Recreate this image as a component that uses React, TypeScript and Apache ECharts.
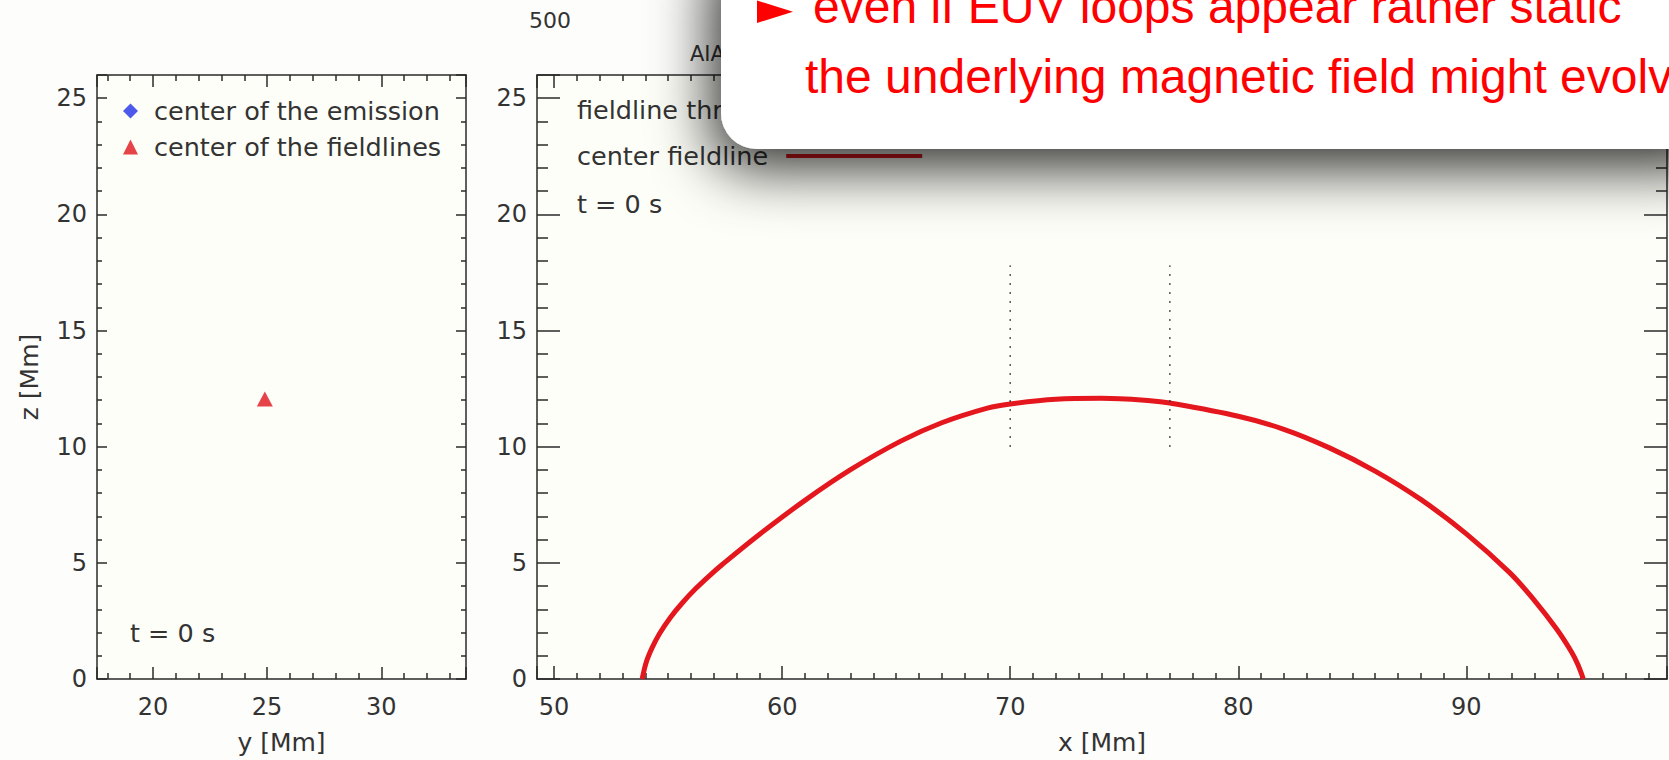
import React, { useEffect, useRef } from "react";
import * as echarts from "echarts";

// ---- data ----
const emissionCenter: number[][] = [];
const fieldlineCenter: number[][] = [[24.9, 12.05]];

const centerFieldlineX = [
  53.86, 54.05, 54.3, 54.62, 55.1, 55.6, 56.2, 56.77, 57.4, 59.0, 61.0, 63.0, 65.2, 67.0, 69.0, 70.0,
  72.0, 74.0, 76.14, 77.0, 80.0, 82.0, 84.0, 86.0, 88.0, 90.0, 91.9, 92.94, 93.96, 94.62, 94.9, 95.13,
];
const centerFieldlineZ = [
  0, 0.75, 1.35, 1.95, 2.65, 3.25, 3.88, 4.41, 4.95, 6.22, 7.69, 9.01, 10.24, 11.03, 11.66, 11.84,
  12.04, 12.08, 11.98, 11.88, 11.31, 10.75, 9.95, 8.95, 7.73, 6.25, 4.58, 3.44, 2.15, 1.15, 0.6, 0,
];
const markerA: number[][] = [[70, 10], [70, 17.8]];
const markerB: number[][] = [[77, 10], [77, 17.8]];

const leftXRange = [17.55, 33.71];
const rightXRange = [49.25, 98.8];
const zRange = [0, 26];

const legendLeft = ["center of the emission", "center of the fieldlines"];
const legendRight = ["center fieldline"];
const overlayLines = ["even if EUV loops appear rather static", "the underlying magnetic field might evolve"];

const FONT = "'DejaVu Sans', 'Noto Sans', sans-serif";
const INK = "#2a2a2a";
const TXT = "#333333";
const TS = 25.5;

function axis(o: any) {
  return {
    type: "value",
    gridIndex: o.grid,
    position: o.position,
    min: o.min,
    max: o.max,
    ...(o.interval != null ? { interval: o.interval } : { minInterval: o.step, maxInterval: o.step }),
    name: o.name || "",
    nameLocation: "middle",
    nameGap: o.nameGap || 0,
    nameTextStyle: { fontFamily: FONT, fontSize: 25, color: TXT },
    axisLine: { show: true, onZero: false, lineStyle: { color: INK, width: 1.5 } },
    splitLine: { show: false },
    axisTick: { show: true, inside: true, length: o.major, lineStyle: { color: INK, width: 1.5 } },
    minorTick: { show: true, splitNumber: o.split, length: o.minor, lineStyle: { color: INK, width: 1.5 } },
    axisLabel: {
      show: !!o.labels,
      color: TXT,
      fontFamily: FONT,
      fontSize: 24,
      margin: o.margin || 8,
      showMinLabel: o.showMin,
      showMaxLabel: false,
    },
  };
}

const option: any = {
  animation: false,
  backgroundColor: "#fdfdfb",
  grid: [
    { left: 97, top: 75, width: 369, height: 605, show: true, backgroundColor: "#fefef8", borderWidth: 0 },
    { left: 537, top: 75, width: 1130, height: 605, show: true, backgroundColor: "#fefef8", borderWidth: 0 },
  ],
  xAxis: [
    axis({ grid: 0, position: "bottom", min: leftXRange[0], max: leftXRange[1], step: 5, split: 5, major: 12, minor: 6, labels: true, margin: 16, showMin: false, name: "y [Mm]", nameGap: 51 }),
    axis({ grid: 0, position: "top", min: leftXRange[0], max: leftXRange[1], step: 5, split: 5, major: 12, minor: 6 }),
    axis({ grid: 1, position: "bottom", min: rightXRange[0], max: rightXRange[1], step: 10, split: 10, major: 13, minor: 6, labels: true, margin: 16, showMin: false, name: "x [Mm]", nameGap: 51 }),
    axis({ grid: 1, position: "top", min: rightXRange[0], max: rightXRange[1], step: 10, split: 10, major: 13, minor: 6 }),
  ],
  yAxis: [
    axis({ grid: 0, position: "left", min: zRange[0], max: zRange[1], interval: 5, split: 5, major: 10, minor: 5, labels: true, margin: 10, showMin: true, name: "z [Mm]", nameGap: 55 }),
    axis({ grid: 0, position: "right", min: zRange[0], max: zRange[1], interval: 5, split: 5, major: 10, minor: 5 }),
    axis({ grid: 1, position: "left", min: zRange[0], max: zRange[1], interval: 5, split: 5, major: 23, minor: 11, labels: true, margin: 10, showMin: true }),
    axis({ grid: 1, position: "right", min: zRange[0], max: zRange[1], interval: 5, split: 5, major: 23, minor: 11 }),
  ],
  legend: [
    {
      orient: "vertical",
      left: 123,
      top: 98,
      padding: 0,
      itemGap: 10,
      itemWidth: 15,
      itemHeight: 15,
      selectedMode: false,
      data: [
        { name: legendLeft[0], icon: "diamond" },
        { name: legendLeft[1], icon: "triangle" },
      ],
      textStyle: { fontFamily: FONT, fontSize: TS, color: TXT, lineHeight: 24, padding: [0, 0, 0, 11] },
    },
    {
      orient: "vertical",
      left: 577,
      top: 143,
      padding: 0,
      align: "right",
      itemWidth: 136,
      itemHeight: 4,
      selectedMode: false,
      data: [{ name: legendRight[0], icon: "rect" }],
      textStyle: { fontFamily: FONT, fontSize: TS, color: TXT, lineHeight: 24, padding: [0, 13, 0, 0] },
    },
  ],
  series: [
    {
      name: legendLeft[0],
      type: "scatter",
      xAxisIndex: 0,
      yAxisIndex: 0,
      symbol: "diamond",
      symbolSize: 15,
      itemStyle: { color: "#1f2fe6" },
      data: emissionCenter,
    },
    {
      name: legendLeft[1],
      type: "scatter",
      xAxisIndex: 0,
      yAxisIndex: 0,
      symbol: "triangle",
      symbolSize: [16, 15],
      itemStyle: { color: "#e0141c" },
      data: fieldlineCenter,
    },
    {
      name: legendRight[0],
      type: "line",
      xAxisIndex: 2,
      yAxisIndex: 2,
      symbol: "none",
      showSymbol: false,
      smooth: 0.35,
      lineStyle: { width: 5, color: "#e3171d" },
      itemStyle: { color: "#e3171d" },
      data: centerFieldlineX.map((x, i) => [x, centerFieldlineZ[i]]),
    },
    {
      name: "marker 70",
      type: "line",
      xAxisIndex: 2,
      yAxisIndex: 2,
      symbol: "none",
      lineStyle: { width: 1.5, color: "#222", type: [1.5, 7.5] },
      data: markerA,
    },
    {
      name: "marker 77",
      type: "line",
      xAxisIndex: 2,
      yAxisIndex: 2,
      symbol: "none",
      lineStyle: { width: 1.5, color: "#222", type: [1.5, 7.5] },
      data: markerB,
    },
  ],
  graphic: [
    { type: "text", z: 5, x: 529, y: 20, style: { text: "500", font: `22px ${FONT}`, fill: TXT, align: "left", verticalAlign: "middle" } },
    { type: "text", z: 5, x: 690, y: 54, style: { text: "AIA", font: `21px ${FONT}`, fill: TXT, align: "left", verticalAlign: "middle" } },
    { type: "text", z: 5, x: 577, y: 110, style: { text: "fieldline thr", font: `${TS}px ${FONT}`, fill: TXT, align: "left", verticalAlign: "middle" } },
    { type: "text", z: 5, x: 577, y: 204, style: { text: "t = 0 s", font: `${TS}px ${FONT}`, fill: TXT, align: "left", verticalAlign: "middle" } },
    { type: "text", z: 5, x: 130, y: 633, style: { text: "t = 0 s", font: `${TS}px ${FONT}`, fill: TXT, align: "left", verticalAlign: "middle" } },
    {
      type: "rect",
      z: 100,
      shape: { x: 721, y: -60, width: 1000, height: 209, r: [0, 0, 0, 36] },
      style: { fill: "#ffffff", shadowBlur: 60, shadowColor: "rgba(0,0,0,0.85)", shadowOffsetX: -8, shadowOffsetY: 18 },
    },
    {
      type: "polygon",
      z: 101,
      shape: { points: [[757, 0.5], [757, 23], [793, 11.7]] },
      style: { fill: "#ff0000" },
    },
    { type: "text", z: 101, x: 813, y: 6.7, style: { text: overlayLines[0], font: "48px 'Liberation Sans', Arial, sans-serif", fill: "#ff0000", align: "left", verticalAlign: "middle" } },
    { type: "text", z: 101, x: 805, y: 76.7, style: { text: overlayLines[1], font: "48px 'Liberation Sans', Arial, sans-serif", fill: "#ff0000", align: "left", verticalAlign: "middle" } },
  ],
};

export default function App() {
  const ref = useRef<HTMLDivElement>(null);
  useEffect(() => {
    const chart = echarts.init(ref.current!, null, { renderer: "svg" });
    chart.setOption(option);
    return () => chart.dispose();
  }, []);
  return <div ref={ref} style={{ position: "fixed", left: 0, top: 0, width: 1669, height: 760 }} />;
}
